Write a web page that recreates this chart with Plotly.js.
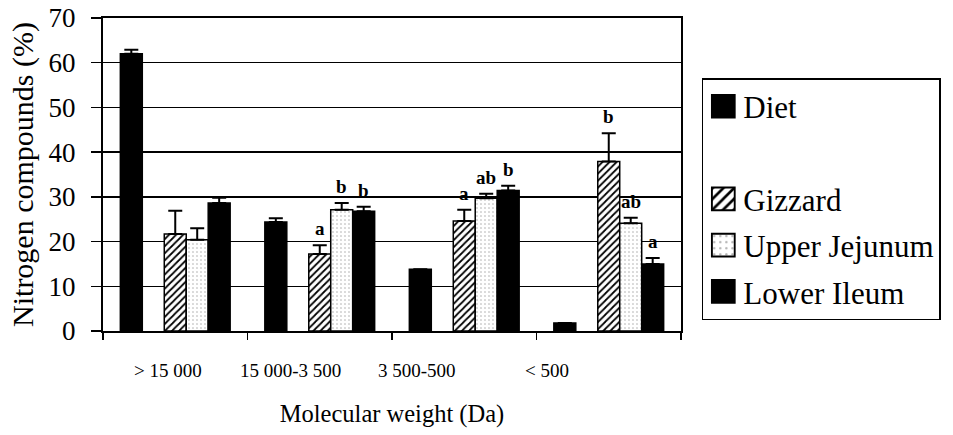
<!DOCTYPE html>
<html>
<head>
<meta charset="utf-8">
<script src="https://cdn.plot.ly/plotly-3.0.1.min.js"></script>
<style>html,body{margin:0;padding:0;background:#fff;}#chart{width:953px;height:435px;}</style>
</head>
<body>
<div id="chart"></div>
<script>
// ---- data ----
const categories = ['> 15 000', '15 000-3 500', '3 500-500', '< 500'];
const seriesNames = ['Diet', '', 'Gizzard', 'Upper Jejunum', 'Lower Ileum'];
const diet      = [62.0, 24.4, 13.8, 1.8];
const dietErr   = [0.9, 0.8, 0, 0];
const gizzard   = [21.7, 17.2, 24.6, 37.9];
const gizzardErr= [5.2, 2.0, 2.5, 6.3];
const jejunum   = [20.4, 27.1, 29.7, 24.1];
const jejunumErr= [2.6, 1.5, 1.0, 1.2];
const ileum     = [28.6, 26.8, 31.4, 15.0];
const ileumErr  = [1.2, 1.0, 1.1, 1.3];
const gizzardLetters = ['', 'a', 'a', 'b'];
const jejunumLetters = ['', 'b', 'ab', 'ab'];
const ileumLetters   = ['', 'b', 'b', 'a'];
const yTicks = [0, 10, 20, 30, 40, 50, 60, 70];

// ---- styling ----
const FONT = 'Liberation Serif';
const BARGAP = 0.24;
const NSLOT = seriesNames.length;
const slotW = (1 - BARGAP) / NSLOT;
const zeros = categories.map(() => 0);

function errY(arr) {
  return {type: 'data', symmetric: false, array: arr, arrayminus: zeros,
          color: '#000', thickness: 2, width: 7, visible: true};
}

const traces = [
  {type: 'bar', name: seriesNames[0], legendgroup: 'g0', x: categories, y: diet,
   marker: {color: '#000', line: {color: '#000', width: 1.5}}, error_y: errY(dietErr)},
  {type: 'bar', name: seriesNames[1], legendgroup: 'g1', x: categories, y: categories.map(() => null),
   marker: {color: 'rgba(255,255,255,0)', line: {width: 0}}, showlegend: true, hoverinfo: 'skip'},
  {type: 'bar', name: seriesNames[2], legendgroup: 'g2', x: categories, y: gizzard,
   marker: {color: '#fff', line: {color: '#000', width: 1.5},
            pattern: {shape: '/', fgcolor: '#000', bgcolor: '#fff', size: 5, solidity: 0.35}},
   error_y: errY(gizzardErr)},
  {type: 'bar', name: seriesNames[3], legendgroup: 'g3', x: categories, y: jejunum,
   marker: {color: '#fff', line: {color: '#000', width: 1.5},
            pattern: {shape: '.', fgcolor: '#aaaaaa', bgcolor: '#fff', size: 4, solidity: 0.12}},
   error_y: errY(jejunumErr)},
  {type: 'bar', name: seriesNames[4], legendgroup: 'g4', x: categories, y: ileum,
   marker: {color: '#000', line: {color: '#000', width: 1.5}}, error_y: errY(ileumErr)}
];

// significance letters above error bars
const annotations = [];
function addLetters(letters, vals, errs, slot) {
  letters.forEach((t, i) => {
    if (!t) return;
    annotations.push({x: i + (slot - (NSLOT - 1) / 2) * slotW, y: vals[i] + errs[i], xref: 'x', yref: 'y',
      text: '<b>' + t + '</b>', showarrow: false, yanchor: 'bottom', yshift: 4,
      font: {family: FONT, size: 19, color: '#000'}});
  });
}
addLetters(gizzardLetters, gizzard, gizzardErr, 2);
addLetters(jejunumLetters, jejunum, jejunumErr, 3);
addLetters(ileumLetters, ileum, ileumErr, 4);

// category labels (shifted as in the reference)
const labelShift = [-0.05, -0.20, -0.33, -0.43];
categories.forEach((c, i) => {
  annotations.push({x: i + labelShift[i], y: 0, xref: 'x', yref: 'paper', text: c, showarrow: false,
    yanchor: 'middle', yshift: -39, font: {family: FONT, size: 19, color: '#000'}});
});

const layout = {
  width: 953, height: 435,
  margin: {l: 103, r: 272, t: 18, b: 104, pad: 0},
  paper_bgcolor: '#fff', plot_bgcolor: '#fff',
  barmode: 'group', bargap: BARGAP, bargroupgap: 0,
  font: {family: FONT, color: '#000'},
  showlegend: true,
  legend: {x: 1.036, xanchor: 'left', y: 0.808, yanchor: 'top',
           bordercolor: '#000', borderwidth: 1.5, bgcolor: '#fff',
           font: {family: FONT, size: 31, color: '#000'},
           tracegroupgap: 3, traceorder: 'grouped', itemclick: false, itemwidth: 30},
  xaxis: {type: 'category', categoryorder: 'array', categoryarray: categories,
          showticklabels: false, ticks: 'outside', tickson: 'boundaries', ticklen: 7,
          tickwidth: 1.5, tickcolor: '#000',
          showline: true, linecolor: '#000', linewidth: 2, mirror: true,
          showgrid: false, zeroline: false, automargin: false,
          title: {text: 'Molecular weight (Da)', font: {family: FONT, size: 24.5, color: '#000'}, standoff: 73}},
  yaxis: {range: [0, 70], tickvals: yTicks, ticks: 'outside', ticklen: 10, tickwidth: 1.5, tickcolor: '#000',
          ticklabelstandoff: 10,
          tickfont: {family: FONT, size: 27, color: '#000'},
          showline: true, linecolor: '#000', linewidth: 2, mirror: true,
          showgrid: true, gridcolor: '#000', gridwidth: 1.5, zeroline: false, automargin: false,
          title: {text: 'Nitrogen compounds (%)', font: {family: FONT, size: 30, color: '#000'}, standoff: 6}},
  annotations: annotations
};

Plotly.newPlot('chart', traces, layout, {displayModeBar: false, staticPlot: true}).then(gd => {
  // enlarge legend swatches to match the reference's bigger boxes
  gd.querySelectorAll('.legend .legendpoints path').forEach(p => {
    const t = p.getAttribute('transform') || '';
    p.setAttribute('transform', t + ' scale(1.9)');
    p.style.strokeWidth = '1px';
  });
});
</script>
</body>
</html>
